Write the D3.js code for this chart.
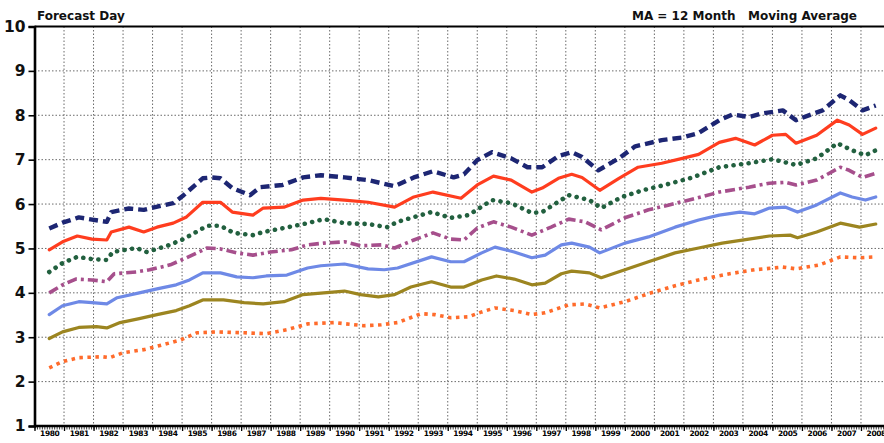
<!DOCTYPE html>
<html>
<head>
<meta charset="utf-8">
<script src="https://cdn.jsdelivr.net/npm/d3@7"></script>
<style>
  body { margin: 0; background: #fff; }
  svg { display: block; }
</style>
</head>
<body>
<svg id="chart"></svg>
<script>
// year span and y range
const YEARS = d3.range(1980, 2009);
const Y_TICKS = d3.range(1, 11);

// 12 month moving averages, [year, forecast day]
const navy = [
  [1980.5, 5.45], [1980.95, 5.58], [1981.5, 5.7], [1981.95, 5.65], [1982.45, 5.6], [1982.6, 5.82],
  [1983.2, 5.9], [1983.7, 5.87], [1984.2, 5.95], [1984.7, 6.02], [1985.05, 6.2], [1985.7, 6.58],
  [1986.0, 6.6], [1986.3, 6.58], [1986.7, 6.36], [1987.3, 6.2], [1987.65, 6.38], [1988.4, 6.43],
  [1989.1, 6.6], [1989.7, 6.65], [1990.5, 6.6], [1991.3, 6.54], [1992.2, 6.4], [1992.85, 6.6],
  [1993.5, 6.74], [1994.2, 6.6], [1994.55, 6.67], [1995.0, 6.99], [1995.5, 7.17], [1996.15, 7.03],
  [1996.7, 6.83], [1997.2, 6.83], [1997.75, 7.08], [1998.2, 7.17], [1998.55, 7.06], [1999.1, 6.76],
  [1999.8, 7.03], [2000.35, 7.3], [2001.25, 7.44], [2001.95, 7.5], [2002.5, 7.6], [2003.2, 7.89],
  [2003.65, 8.02], [2004.2, 7.96], [2004.65, 8.04], [2005.35, 8.11], [2005.8, 7.89], [2006.4, 8.04],
  [2006.7, 8.11], [2007.3, 8.45], [2007.6, 8.34], [2008.05, 8.11], [2008.5, 8.22],
];
const red = [
  [1980.5, 4.97], [1980.95, 5.15], [1981.45, 5.28], [1981.95, 5.21], [1982.45, 5.19], [1982.6, 5.37],
  [1983.2, 5.48], [1983.7, 5.37], [1984.15, 5.48], [1984.7, 5.57], [1985.15, 5.71], [1985.7, 6.04],
  [1986.3, 6.04], [1986.7, 5.82], [1987.4, 5.75], [1987.75, 5.91], [1988.45, 5.93], [1989.1, 6.09],
  [1989.7, 6.13], [1990.5, 6.09], [1991.3, 6.04], [1992.2, 5.93], [1992.85, 6.16], [1993.5, 6.27],
  [1994.45, 6.13], [1995.0, 6.43], [1995.55, 6.63], [1996.15, 6.54], [1996.85, 6.27], [1997.2, 6.36],
  [1997.75, 6.58], [1998.2, 6.67], [1998.55, 6.6], [1999.15, 6.31], [1999.8, 6.58], [2000.45, 6.83],
  [2001.25, 6.92], [2001.95, 7.03], [2002.5, 7.12], [2003.2, 7.39], [2003.75, 7.48], [2004.4, 7.33],
  [2005.0, 7.55], [2005.45, 7.57], [2005.8, 7.37], [2006.5, 7.55], [2007.2, 7.89], [2007.6, 7.78],
  [2008.05, 7.57], [2008.5, 7.71],
];
const green = [
  [1980.5, 4.47], [1980.95, 4.67], [1981.45, 4.81], [1981.95, 4.76], [1982.45, 4.74], [1982.65, 4.92],
  [1983.45, 5.01], [1983.8, 4.92], [1984.5, 5.06], [1985.05, 5.21], [1985.85, 5.51], [1986.3, 5.51],
  [1986.75, 5.35], [1987.4, 5.3], [1987.75, 5.37], [1988.45, 5.46], [1989.25, 5.57], [1989.8, 5.66],
  [1990.5, 5.57], [1991.3, 5.55], [1991.95, 5.48], [1992.3, 5.6], [1993.45, 5.82], [1994.1, 5.69],
  [1994.7, 5.75], [1995.5, 6.09], [1996.15, 6.02], [1996.85, 5.8], [1997.2, 5.82], [1998.1, 6.2],
  [1998.8, 6.09], [1999.2, 5.91], [1999.9, 6.16], [2000.6, 6.31], [2001.35, 6.43], [2002.3, 6.6],
  [2003.2, 6.83], [2004.2, 6.92], [2005.0, 7.01], [2005.8, 6.88], [2006.5, 7.03], [2007.2, 7.37],
  [2007.7, 7.21], [2008.15, 7.1], [2008.5, 7.21],
];
const purple = [
  [1980.5, 4.0], [1980.95, 4.18], [1981.4, 4.31], [1981.95, 4.29], [1982.45, 4.25], [1982.7, 4.43],
  [1983.45, 4.47], [1983.9, 4.52], [1984.6, 4.63], [1985.15, 4.79], [1985.85, 5.01], [1986.3, 4.99],
  [1986.85, 4.9], [1987.4, 4.85], [1988.0, 4.92], [1988.7, 4.97], [1989.25, 5.08], [1989.8, 5.12],
  [1990.5, 5.15], [1991.05, 5.06], [1991.75, 5.08], [1992.2, 5.01], [1992.85, 5.19], [1993.5, 5.35],
  [1994.1, 5.21], [1994.55, 5.19], [1995.0, 5.46], [1995.55, 5.6], [1996.15, 5.48], [1996.85, 5.3],
  [1997.5, 5.48], [1998.1, 5.66], [1998.65, 5.6], [1999.2, 5.42], [2000.0, 5.69], [2000.8, 5.87],
  [2001.5, 5.98], [2002.4, 6.13], [2003.2, 6.27], [2004.2, 6.38], [2004.9, 6.47], [2005.45, 6.49],
  [2005.8, 6.43], [2006.5, 6.54], [2007.3, 6.83], [2007.6, 6.76], [2008.05, 6.6], [2008.5, 6.69],
];
const blue = [
  [1980.5, 3.51], [1980.95, 3.71], [1981.5, 3.8], [1981.95, 3.78], [1982.45, 3.75], [1982.8, 3.89],
  [1983.55, 4.0], [1984.15, 4.09], [1984.8, 4.18], [1985.25, 4.29], [1985.7, 4.45], [1986.3, 4.45],
  [1986.85, 4.36], [1987.4, 4.34], [1987.85, 4.38], [1988.55, 4.4], [1989.25, 4.56], [1989.7, 4.61],
  [1990.5, 4.65], [1991.3, 4.54], [1991.85, 4.52], [1992.3, 4.56], [1993.45, 4.81], [1994.1, 4.7],
  [1994.55, 4.7], [1995.15, 4.9], [1995.6, 5.03], [1996.25, 4.92], [1996.85, 4.79], [1997.3, 4.85],
  [1997.85, 5.08], [1998.2, 5.12], [1998.8, 5.03], [1999.15, 4.9], [2000.0, 5.12], [2000.8, 5.26],
  [2001.7, 5.48], [2002.5, 5.64], [2003.2, 5.75], [2003.9, 5.82], [2004.4, 5.78], [2004.9, 5.91],
  [2005.45, 5.93], [2005.85, 5.82], [2006.5, 5.98], [2007.3, 6.25], [2007.7, 6.16], [2008.15, 6.09],
  [2008.5, 6.16],
];
const olive = [
  [1980.5, 2.97], [1980.95, 3.12], [1981.5, 3.22], [1982.1, 3.24], [1982.45, 3.21], [1982.9, 3.33],
  [1983.55, 3.42], [1984.15, 3.51], [1984.8, 3.6], [1985.25, 3.71], [1985.7, 3.84], [1986.4, 3.84],
  [1987.1, 3.78], [1987.75, 3.75], [1988.45, 3.8], [1989.1, 3.96], [1989.8, 4.0], [1990.5, 4.04],
  [1991.05, 3.96], [1991.65, 3.91], [1992.2, 3.96], [1992.75, 4.13], [1993.45, 4.25], [1994.1, 4.13],
  [1994.55, 4.13], [1995.15, 4.29], [1995.65, 4.38], [1996.25, 4.31], [1996.85, 4.18], [1997.3, 4.22],
  [1997.85, 4.43], [1998.2, 4.49], [1998.8, 4.45], [1999.2, 4.34], [2000.0, 4.52], [2000.8, 4.7],
  [2001.7, 4.9], [2002.5, 5.01], [2003.3, 5.12], [2004.2, 5.21], [2004.9, 5.28], [2005.6, 5.3],
  [2005.85, 5.24], [2006.5, 5.37], [2007.3, 5.57], [2007.95, 5.48], [2008.5, 5.55],
];
const orange = [
  [1980.5, 2.31], [1980.95, 2.45], [1981.5, 2.54], [1982.3, 2.56], [1982.55, 2.54], [1983.0, 2.65],
  [1983.7, 2.72], [1984.35, 2.83], [1984.95, 2.94], [1985.5, 3.1], [1986.2, 3.12], [1987.1, 3.1],
  [1987.85, 3.08], [1988.55, 3.17], [1989.25, 3.3], [1990.15, 3.33], [1991.15, 3.26], [1991.75, 3.28],
  [1992.3, 3.33], [1993.1, 3.53], [1993.55, 3.51], [1994.1, 3.44], [1994.7, 3.46], [1995.15, 3.57],
  [1995.6, 3.66], [1996.25, 3.6], [1996.85, 3.51], [1997.3, 3.55], [1998.1, 3.73], [1998.65, 3.75],
  [1999.15, 3.66], [2000.0, 3.8], [2000.8, 3.98], [2001.7, 4.16], [2002.5, 4.29], [2003.55, 4.43],
  [2004.4, 4.52], [2005.35, 4.58], [2005.8, 4.54], [2006.6, 4.63], [2007.3, 4.81], [2007.95, 4.79],
  [2008.5, 4.81],
];

const width = 884;
const height = 443;

const svg = d3.select('#chart')
  .attr('width', width)
  .attr('height', height)
  .attr('viewBox', `0 0 ${width} ${height}`);

const x = d3.scaleLinear().domain([1980, 2009]).range([34.5, 890.5]);
const y = d3.scaleLinear().domain([1, 10]).range([426, 26.5]);

// grid
const grid = svg.append('g').attr('class', 'grid');
grid.selectAll('.vgrid')
  .data(YEARS.slice(1))
  .enter()
  .append('line')
  .attr('x1', d => x(d))
  .attr('x2', d => x(d))
  .attr('y1', y(10))
  .attr('y2', y(1))
  .attr('stroke', '#6a6a6a')
  .attr('stroke-width', 1)
  .attr('stroke-dasharray', '1.5 2');
grid.selectAll('.hgrid')
  .data(Y_TICKS.slice(1, -1))
  .enter()
  .append('line')
  .attr('x1', x(1980))
  .attr('x2', width)
  .attr('y1', d => y(d))
  .attr('y2', d => y(d))
  .attr('stroke', '#6a6a6a')
  .attr('stroke-width', 1)
  .attr('stroke-dasharray', '1.5 2');

// series styles
const SERIES = [
  { data: navy, color: '#1d2673', w: 4.4, dash: '9 5', cap: 'butt' },
  { data: red, color: '#ff3d1f', w: 3.2, dash: null, cap: 'round' },
  { data: green, color: '#22603f', w: 4.6, dash: '0.1 7.5', cap: 'round' },
  { data: purple, color: '#a64f8c', w: 3.6, dash: '10 4 3 4', cap: 'butt' },
  { data: blue, color: '#6e89e6', w: 3.2, dash: null, cap: 'round' },
  { data: olive, color: '#9c8520', w: 3.2, dash: null, cap: 'round' },
  { data: orange, color: '#ff6b2b', w: 3.6, dash: '3.5 4.5', cap: 'butt' },
];

const line = d3.line()
  .x(d => x(d[0]))
  .y(d => y(d[1]))
  .curve(d3.curveLinear);

svg.append('g')
  .attr('class', 'series')
  .selectAll('path')
  .data(SERIES)
  .enter()
  .append('path')
  .attr('d', d => line(d.data))
  .attr('fill', 'none')
  .attr('stroke', d => d.color)
  .attr('stroke-width', d => d.w)
  .attr('stroke-linecap', d => d.cap)
  .attr('stroke-linejoin', 'round')
  .attr('stroke-dasharray', d => d.dash);

// y axis
const yAxis = svg.append('g')
  .attr('transform', `translate(${x(1980)},0)`)
  .call(d3.axisLeft(y).tickValues(Y_TICKS).tickSize(6).tickPadding(3).tickFormat(d3.format('d')));
yAxis.select('.domain').attr('stroke', '#000').attr('stroke-width', 2.6);
yAxis.selectAll('.tick line').attr('stroke', '#000').attr('stroke-width', 1.6);
yAxis.selectAll('.tick text')
  .attr('fill', '#111')
  .style('font-family', '"DejaVu Sans", sans-serif')
  .style('font-weight', 'bold')
  .style('font-size', '15.5px');

// x axis: monthly minor ticks, yearly major, labels mid-year
const months = d3.range(0, 29 * 12 + 1).map(i => 1980 + i / 12);
const xMinor = svg.append('g')
  .attr('transform', `translate(0,${y(1)})`)
  .call(d3.axisBottom(x).tickValues(months).tickSize(3.5).tickFormat(''));
xMinor.select('.domain').remove();
xMinor.selectAll('.tick line').attr('stroke', '#222').attr('stroke-width', 0.9);

const xMajor = svg.append('g')
  .attr('transform', `translate(0,${y(1)})`)
  .call(d3.axisBottom(x).tickValues(YEARS).tickSize(5).tickFormat(''));
xMajor.select('.domain').remove();
xMajor.selectAll('.tick line').attr('stroke', '#000').attr('stroke-width', 1.3);

const xLabels = svg.append('g')
  .attr('transform', `translate(0,${y(1)})`)
  .call(d3.axisBottom(x).tickValues(YEARS.map(v => v + 0.5)).tickSize(0).tickPadding(5)
    .tickFormat(d => String(Math.floor(d))));
xLabels.select('.domain').remove();
xLabels.selectAll('.tick text')
  .attr('fill', '#000')
  .style('font-family', '"DejaVu Sans", sans-serif')
  .style('font-weight', 'bold')
  .style('font-size', '7.5px')
  .style('letter-spacing', '-0.4px');

// frame lines
svg.append('line')
  .attr('x1', x(1980)).attr('x2', width)
  .attr('y1', y(1)).attr('y2', y(1))
  .attr('stroke', '#000').attr('stroke-width', 2.4);
svg.append('line')
  .attr('x1', x(1980)).attr('x2', width)
  .attr('y1', y(10)).attr('y2', y(10))
  .attr('stroke', '#000').attr('stroke-width', 2);

// titles
svg.append('text')
  .attr('x', 37)
  .attr('y', 20)
  .text('Forecast Day')
  .attr('fill', '#111')
  .style('font-family', '"DejaVu Sans", sans-serif')
  .style('font-weight', 'bold')
  .style('font-size', '12px');

svg.append('text')
  .attr('x', 857)
  .attr('y', 20)
  .attr('text-anchor', 'end')
  .attr('xml:space', 'preserve')
  .text('MA = 12 Month   Moving Average')
  .attr('fill', '#111')
  .style('font-family', '"DejaVu Sans", sans-serif')
  .style('font-weight', 'bold')
  .style('font-size', '12px');
</script>
</body>
</html>
